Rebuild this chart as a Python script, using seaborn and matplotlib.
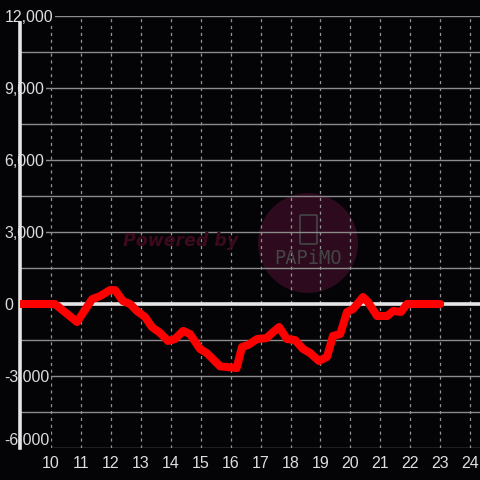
import pandas as pd
import matplotlib
matplotlib.use("Agg")
import matplotlib.pyplot as plt
from matplotlib.patches import Circle, FancyBboxPatch
from matplotlib.ticker import MultipleLocator, FuncFormatter
import seaborn as sns

# hour of day vs balance
hours = [9.0, 10.13, 10.87, 11.37, 11.64, 11.97, 12.14, 12.4, 12.64, 12.87, 13.14,
         13.37, 13.64, 13.91, 14.14, 14.41, 14.64, 14.98, 15.2, 15.65, 15.88,
         16.2, 16.38, 16.58, 16.88, 17.2, 17.42, 17.62, 17.88, 18.15, 18.42,
         18.65, 18.95, 19.22, 19.42, 19.66, 19.89, 20.09, 20.42, 20.59, 20.89,
         21.23, 21.43, 21.69, 21.89, 23.0]
balance = [0, 0, -750, 200, 330, 580, 580, 125, 0, -290, -540,
           -960, -1200, -1540, -1460, -1125, -1250, -1875, -2040, -2600, -2625,
           -2670, -1790, -1710, -1460, -1420, -1170, -960, -1460, -1500, -1875,
           -2040, -2375, -2200, -1330, -1250, -330, -210, 290, 80, -500,
           -500, -290, -330, 0, 0]
x_ticks = list(range(10, 25))
y_ticks = [-6000, -3000, 0, 3000, 6000, 9000, 12000]

df = pd.DataFrame({"hour": hours, "balance": balance})

bg = "#040306"
sns.set_theme(style="dark", rc={"axes.facecolor": bg, "figure.facecolor": bg,
                                "axes.edgecolor": bg, "text.color": "#dddddd",
                                "xtick.color": "#dddddd", "ytick.color": "#dddddd"})
plt.rcParams["font.family"] = ["Liberation Sans", "DejaVu Sans"]

fig = plt.figure(figsize=(4.8, 4.8), dpi=100)
ax = fig.add_axes([20 / 480, 32 / 480, 460 / 480, 432 / 480])

# watermark
ax.add_patch(Circle((308 / 480, 1 - 243 / 480), 50 / 480, transform=fig.transFigure,
                    facecolor="#2d0a1e", edgecolor="none", zorder=0.1))
ax.add_patch(FancyBboxPatch((301 / 480, 1 - 243 / 480), 15 / 480, 27 / 480,
                            boxstyle="round,pad=0.002", transform=fig.transFigure,
                            facecolor="none", edgecolor="#454545", lw=1.2, zorder=0.2))
fig.text(308 / 480, 1 - 258 / 480, "PAPiMO", color="#454545", fontsize=13.5,
         family="DejaVu Sans Mono", ha="center", va="center", zorder=0.2)
fig.text(181 / 480, 1 - 241 / 480, "Powered by", color="#3b0a1e", fontsize=12.5,
         style="italic", weight="bold", family="DejaVu Sans", ha="center", va="center",
         zorder=0.2)

ax.set_xlim(8.964, 24.33)
ax.set_ylim(-6000, 12000)
ax.set_xticks(x_ticks)
ax.set_yticks(y_ticks)
ax.yaxis.set_minor_locator(MultipleLocator(1500))
ax.yaxis.set_major_formatter(FuncFormatter(lambda v, p: f"{int(v):,}"))

ax.set_axisbelow(True)
ax.grid(True, axis="y", which="both", color="#8c8c8c", lw=1, ls="-")
ax.grid(True, axis="x", which="major", color="#949494", lw=0.9, ls=(0, (2.5, 3)))
ax.axhline(0, color="#e6e6e6", lw=2.6, zorder=1)

sns.lineplot(data=df, x="hour", y="balance", sort=False, color="#ff0000",
             lw=5.8, ax=ax, zorder=3)
ax.set_xlabel("")
ax.set_ylabel("")

for s in ["top", "right", "bottom"]:
    ax.spines[s].set_visible(False)
ax.spines["left"].set_color("#e6e6e6")
ax.spines["left"].set_linewidth(2.6)
ax.spines["left"].set_bounds(-6000, 11700)
ax.spines["left"].set_zorder(2)

ax.tick_params(axis="y", which="both", length=0, pad=11, labelsize=11.5)
ax.tick_params(axis="x", length=0, pad=6, labelsize=11.5)
for t in ax.get_yticklabels():
    t.set_horizontalalignment("left")
    t.set_bbox(dict(facecolor=bg, edgecolor="none", pad=1))
    t.set_zorder(4)
ax.get_yticklabels()[0].set_verticalalignment("bottom")

fig.savefig("out.png", dpi=100, facecolor=bg)
